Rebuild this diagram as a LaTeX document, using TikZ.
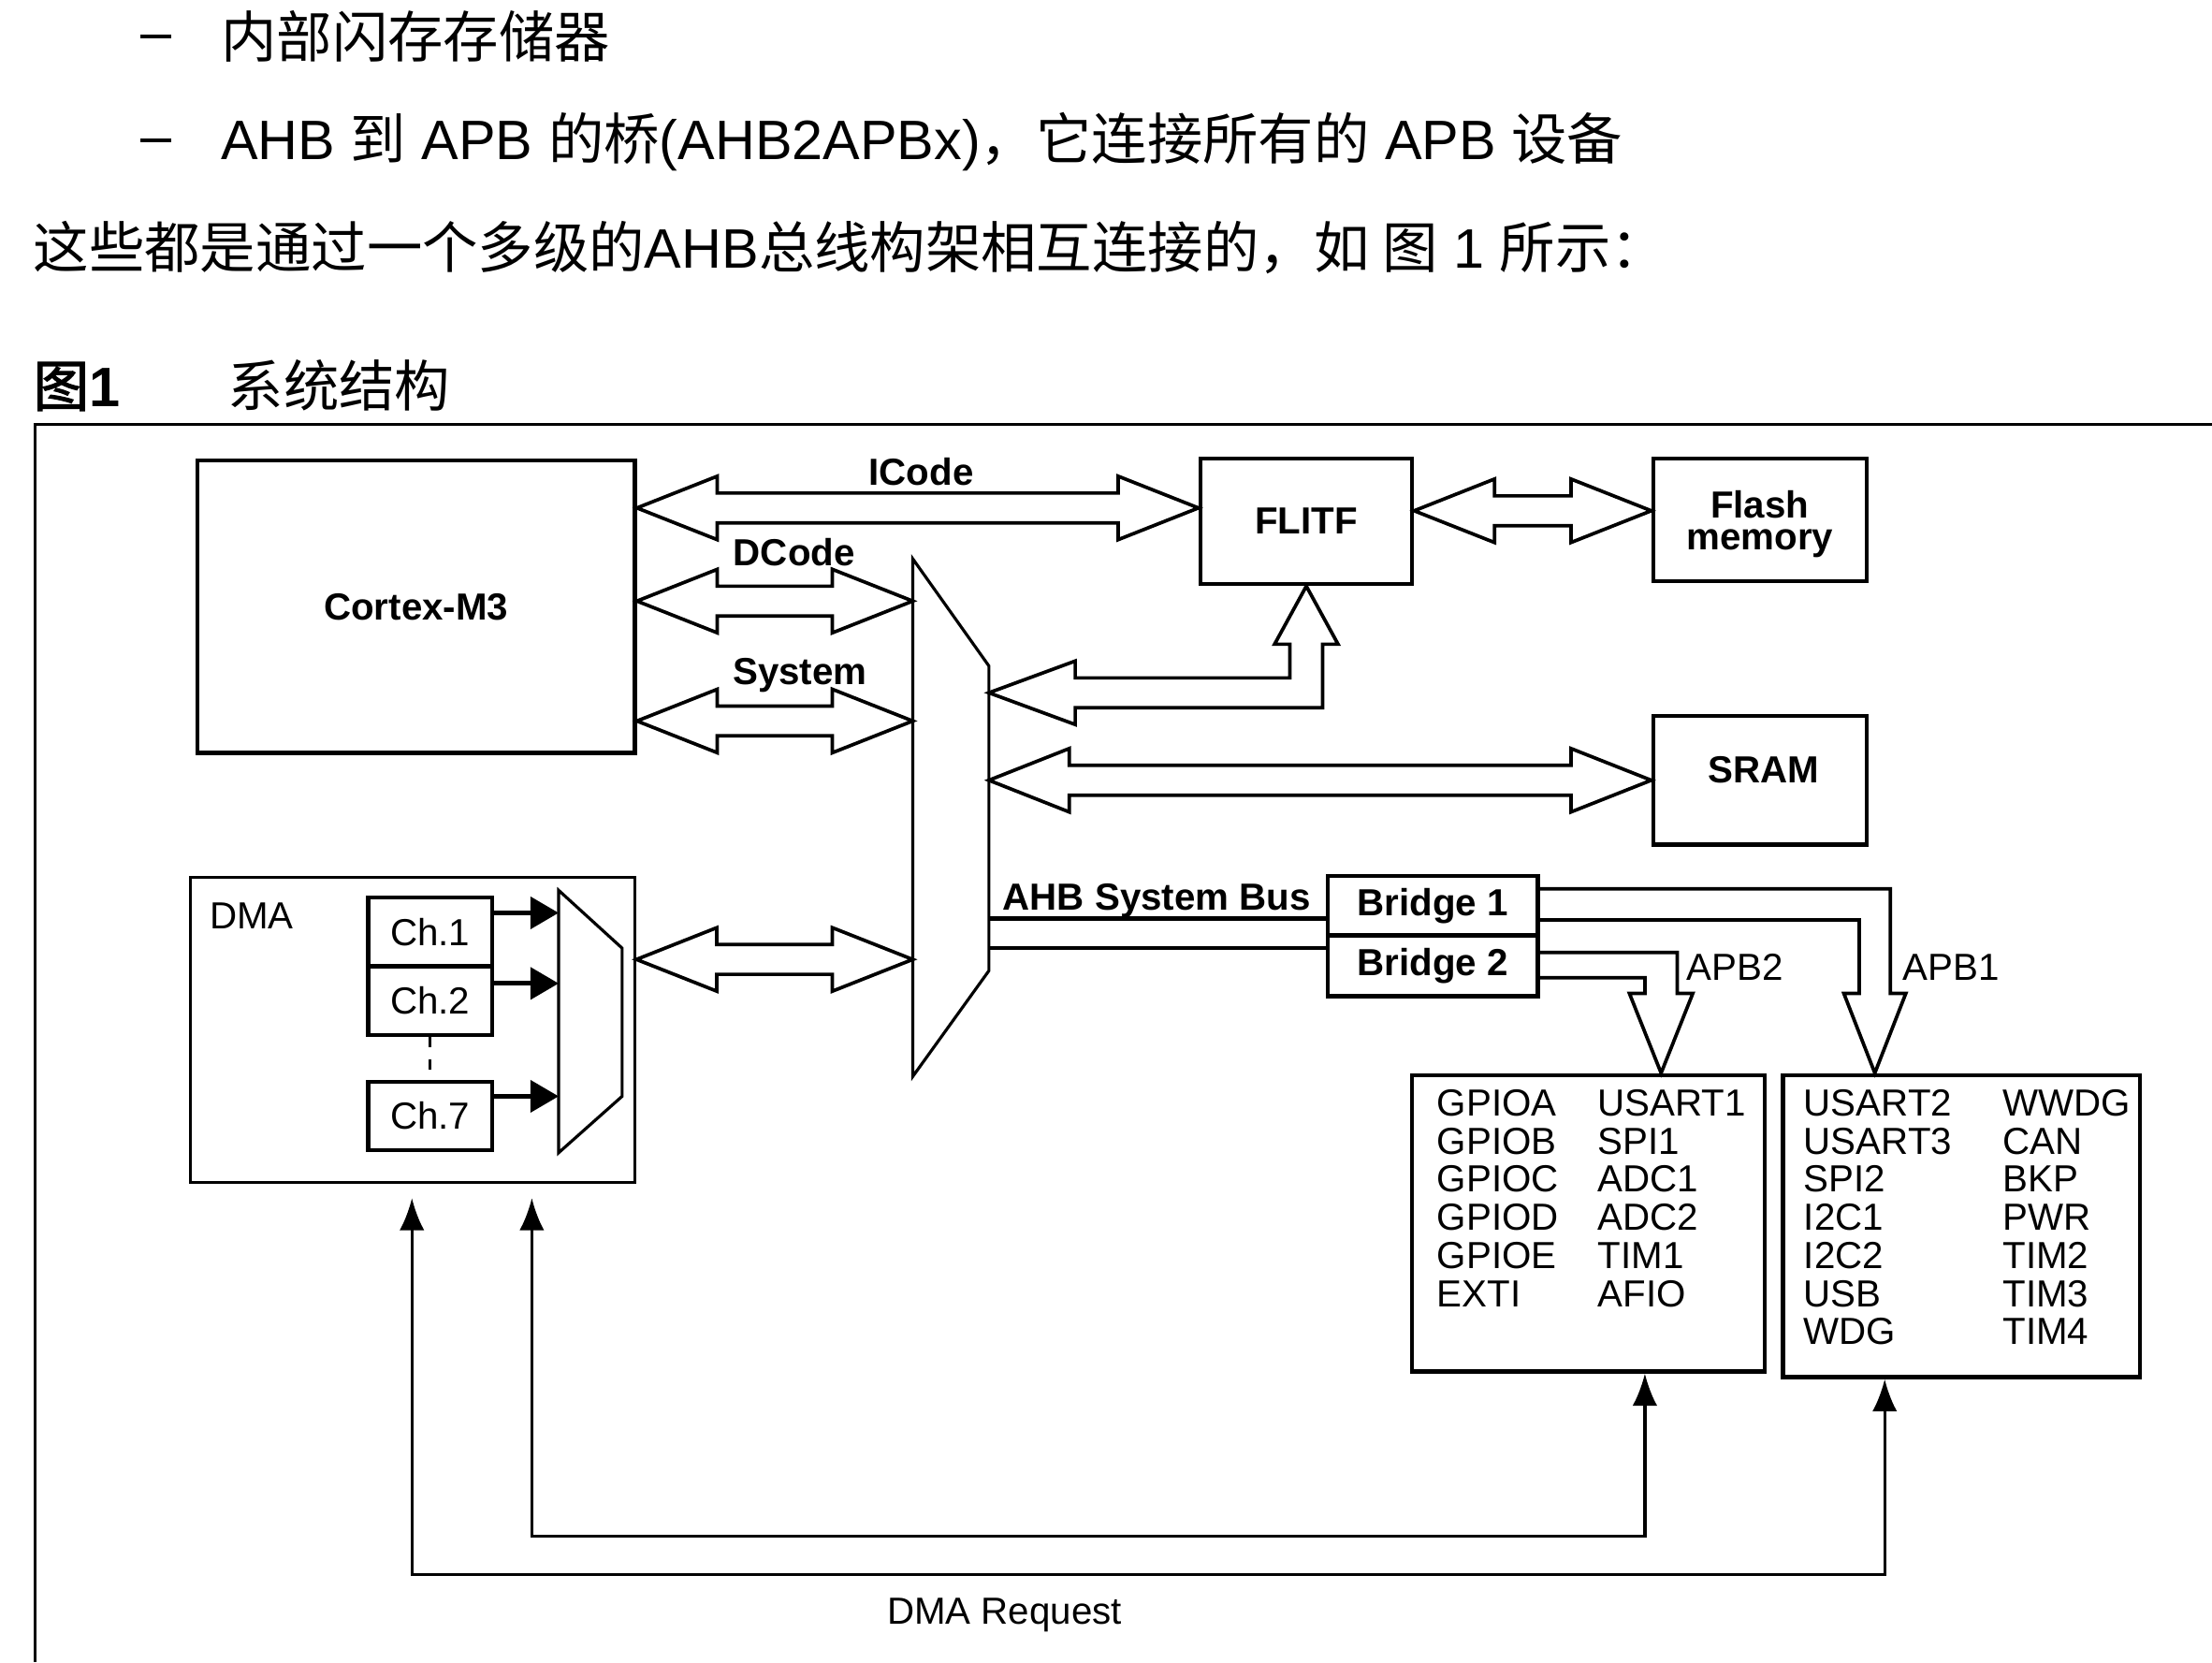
\documentclass[tikz,border=0pt]{standalone}
\usepackage{fontspec}
\setmainfont{Liberation Sans}
\newfontfamily\cjk[AutoFakeBold=2]{Noto Sans CJK SC}
\usetikzlibrary{calc,arrows.meta}

\newcommand{\hdr}{\fontsize{11.2}{13}\selectfont}
\newcommand{\dgm}{\fontsize{7.6}{8.9}\selectfont}
\newcommand{\dbus}[2]{%
  \draw[bus] let \p1=#1, \p2=#2 in
    (\x1,\y1) -- (\x1+16.2pt,\y1+6.4pt) -- (\x1+16.2pt,\y1+3pt)
    -- (\x2-16.2pt,\y1+3pt) -- (\x2-16.2pt,\y1+6.4pt) -- (\x2,\y1)
    -- (\x2-16.2pt,\y1-6.4pt) -- (\x2-16.2pt,\y1-3pt)
    -- (\x1+16.2pt,\y1-3pt) -- (\x1+16.2pt,\y1-6.4pt) -- cycle;}

\tikzset{
  box/.style={draw, line width=0.8pt, inner sep=0pt},
  bus/.style={draw, line width=0.7pt, line join=miter},
  lbl/.style={anchor=base, inner sep=0pt},
  blbl/.style={anchor=base, inner sep=0pt, font=\dgm\bfseries},
  periph/.style={anchor=base west, inner sep=0pt},
  chan/.style={line width=0.9pt, -{Triangle[length=5.7pt,width=6.4pt]}},
  req/.style={line width=0.6pt, {Latex[length=6.5pt,width=5pt]}-{Latex[length=6.5pt,width=5pt]}}
}

\begin{document}
\begin{tikzpicture}[x=0.01cm, y=-0.01cm, font=\dgm]
        \useasboundingbox (0,0) rectangle (1568,1178);
        \node[anchor=base, inner sep=0pt, font=\hdr] at (110.5,36) (dashA) {–};
        \node[anchor=base west, inner sep=0pt, font=\hdr\cjk] at (156,41) (itemA) {内部闪存存储器};
        \node[anchor=base, inner sep=0pt, font=\hdr] at (110.5,110) (dashB) {–};
        \node[anchor=base west, inner sep=0pt, font=\hdr] at (156,113) (itemB) {AHB {\cjk 到} APB {\cjk 的桥}(AHB2APBx){\cjk ，它连接所有的} APB {\cjk 设备}};
        \node[anchor=base west, inner sep=0pt, font=\hdr] at (23,190) (para) {{\cjk 这些都是通过一个多级的}AHB{\cjk 总线构架相互连接的，如 图} 1 {\cjk 所示：}};
        \node[anchor=base west, inner sep=0pt, font=\hdr\bfseries] at (23,288) (figno) {{\cjk 图}1};
        \node[anchor=base west, inner sep=0pt, font=\hdr\cjk] at (161,288) (figtitle) {系统结构};
        \draw[line width=0.55pt] (1568,301) -- (25,301) -- (25,1178);

        \node[box, minimum width=3.10cm, minimum height=2.07cm, font=\dgm\bfseries] at (295,430) (cortex) {Cortex-M3};
        \node[box, minimum width=1.50cm, minimum height=0.89cm, font=\dgm\bfseries] at (926,369.5) (flitf) {FLITF};
        \node[box, minimum width=1.51cm, minimum height=0.87cm, font=\bfseries\fontsize{7.6}{6.4}\selectfont, align=center, text depth=0pt] at (1247.5,368.5) (flash) {Flash\\memory};
        \node[box, minimum width=1.51cm, minimum height=0.91cm] at (1247.5,553) (sram) {};
        \node[blbl] at (1250,555) (sramlbl) {SRAM};
        \node[draw, line width=0.6pt, minimum width=3.15cm, minimum height=2.16cm] at (292.5,730) (dma) {};
        \node[anchor=base west, inner sep=0pt] at (148,658) (dmalbl) {DMA};
        \node[box, minimum width=0.88cm, minimum height=0.49cm] at (305,660.5) (ch1) {Ch.1};
        \node[box, minimum width=0.88cm, minimum height=0.49cm] at (305,709.3) (ch2) {Ch.2};
        \node[box, minimum width=0.88cm, minimum height=0.48cm] at (305,791) (ch7) {Ch.7};
        \node[box, minimum width=1.49cm, minimum height=0.42cm, font=\dgm\bfseries] at (1015.5,642) (bridge1) {Bridge 1};
        \node[box, minimum width=1.49cm, minimum height=0.43cm, font=\dgm\bfseries] at (1015.5,684.5) (bridge2) {Bridge 2};
        \node[box, minimum width=2.50cm, minimum height=2.10cm] at (1126,867) (apb2) {};
        \node[box, minimum width=2.53cm, minimum height=2.14cm] at (1390.5,869) (apb1) {};

        \coordinate (mtx1) at (647,396);
        \coordinate (mtx2) at (701,472);
        \coordinate (mtx3) at (701,688);
        \coordinate (mtx4) at (647,763);
        \draw[line width=0.6pt] (mtx1) -- (mtx2) -- (mtx3) -- (mtx4) -- cycle;
        \coordinate (dmux1) at (396,631);
        \coordinate (dmux2) at (441,672);
        \coordinate (dmux3) at (441,777);
        \coordinate (dmux4) at (396,817);
        \draw[line width=0.6pt] (dmux1) -- (dmux2) -- (dmux3) -- (dmux4) -- cycle;

        \dbus{(cortex.east |- 0,360)}{(flitf.west |- 0,360)}
        \dbus{(cortex.east |- 0,426)}{(mtx1 |- 0,426)}
        \dbus{(cortex.east |- 0,511)}{(mtx1 |- 0,511)}
        \dbus{(dma.east |- 0,680)}{(mtx1 |- 0,680)}
        \dbus{(mtx2 |- 0,553)}{(sram.west |- 0,553)}
        \dbus{(flitf.east |- 0,362)}{(flash.west |- 0,362)}
        \draw[bus] let \p1=(mtx2 |- 0,491), \p2=(flitf.south) in
          (\x1,\y1) -- (\x1+17.4pt,\y1+6.4pt) -- (\x1+17.4pt,\y1+3pt)
          -- (\x2-3.3pt,\y1+3pt) -- (\x2-3.3pt,\y2-11.7pt) -- (\x2-6.4pt,\y2-11.7pt)
          -- (\x2,\y2) -- (\x2+6.4pt,\y2-11.7pt) -- (\x2+3.3pt,\y2-11.7pt)
          -- (\x2+3.3pt,\y1-3pt) -- (\x1+17.4pt,\y1-3pt) -- (\x1+17.4pt,\y1-6.4pt) -- cycle;
        \node[blbl] at (653,344) (icode) {ICode};
        \node[blbl] at (563,401) (dcode) {DCode};
        \node[blbl] at (567,485) (system) {System};

        \draw[line width=0.8pt] (mtx2 |- 0,651) -- (bridge1.west |- 0,651);
        \draw[line width=0.8pt] (mtx2 |- 0,672) -- (bridge2.west |- 0,672);
        \node[blbl] at (820,645) (ahb) {AHB System Bus};

        \draw[bus] (bridge1.east |- 0,630) -| (1340,704) -- (1351,704) -- (apb1.north -| 1329,0)
          -- (1307,704) -- (1318,704) |- (bridge1.east |- 0,652);
        \draw[bus] (bridge2.east |- 0,675) -| (1189,704) -- (1200,704) -- (apb2.north -| 1177.5,0)
          -- (1155,704) -- (1166,704) |- (bridge2.east |- 0,693);
        \node[lbl] at (1230,695) (apb2lbl) {APB2};
        \node[lbl] at (1383,695) (apb1lbl) {APB1};

        \draw[chan] (ch1.east |- 0,647) -- (dmux1 |- 0,647);
        \draw[chan] (ch2.east |- 0,697) -- (dmux1 |- 0,697);
        \draw[chan] (ch7.east |- 0,777) -- (dmux1 |- 0,777);
        \draw[line width=0.6pt, dash pattern=on 2pt off 2.5pt] (ch2) -- (ch7);

        \foreach \t [count=\i from 0] in {GPIOA,GPIOB,GPIOC,GPIOD,GPIOE,EXTI}
          \node[periph] at (1018,791+27*\i) (pa\i) {\t};
        \foreach \t [count=\i from 0] in {USART1,SPI1,ADC1,ADC2,TIM1,AFIO}
          \node[periph] at (1132,791+27*\i) (pb\i) {\t};
        \foreach \t [count=\i from 0] in {USART2,USART3,SPI2,I2C1,I2C2,USB,WDG}
          \node[periph] at (1278,791+27*\i) (pc\i) {\t};
        \foreach \t [count=\i from 0] in {WWDG,CAN,BKP,PWR,TIM2,TIM3,TIM4}
          \node[periph] at (1419,791+27*\i) (pd\i) {\t};

        \draw[req, shorten <=0.1cm] (dma.south -| 292,0) -- (292,1116) -| (apb1.south -| 1336,0);
        \draw[req, shorten <=0.1cm] (dma.south -| 377,0) -- (377,1089) -| (apb2.south -| 1166,0);
        \node[lbl] at (712,1151) (dmareq) {DMA Request};
      \end{tikzpicture}
\end{document}
